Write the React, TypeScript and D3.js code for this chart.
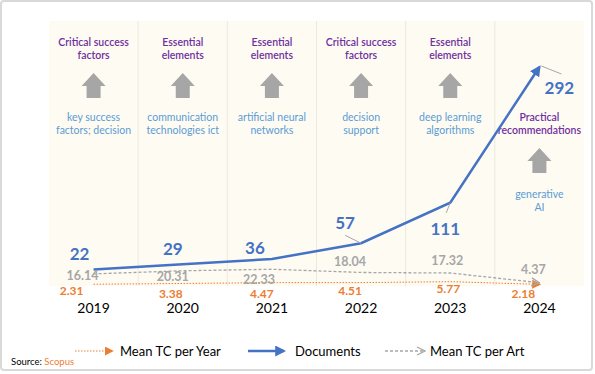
import * as d3 from "d3"

const years = ["2019", "2020", "2021", "2022", "2023", "2024"]
const documents = [22, 29, 36, 57, 111, 292]
const meanTcPerArt = [16.14, 20.31, 22.33, 18.04, 17.32, 4.37]
const meanTcPerYear = [2.31, 3.38, 4.47, 4.51, 5.77, 2.18]
const themes = [
  ["Critical success", "factors"],
  ["Essential", "elements"],
  ["Essential", "elements"],
  ["Critical success", "factors"],
  ["Essential", "elements"],
  ["Practical", "recommendations"],
]
const keywords = [
  ["key success", "factors; decision"],
  ["communication", "technologies ict"],
  ["artificial neural", "networks"],
  ["decision", "support"],
  ["deep learning", "algorithms"],
  ["generative", "AI"],
]

// label offsets relative to each point (layout only)
const docOff = [[-14, -15], [-10, -15], [-17, -11], [-16, -20], [-5, 26], [20, 21]]
const artOff = [[-11, 2], [-10, 6], [-13, 10], [-11, -11], [-3, -12], [-6, -13]]
const yearOff = [[-22, 7], [-12, 10], [-10, 11], [-11, 8], [-2, 7], [-16, 9]]

const W = 595
const H = 374
const FONT = "Lato, 'Open Sans', sans-serif"
const BLUE = "#4472c4"
const GRAY = "#a6a6a6"
const ORANGE = "#ed7d31"
const PURPLE = "#7030a0"
const KEYBLUE = "#5b9bd5"

export default function App() {
  const x = d3.scaleBand().domain(years).range([49, 584])
  const y = d3.scaleLinear().domain([0, 292]).range([286, 67])
  const cx = (i) => x(years[i]) + x.bandwidth() / 2

  const line = d3.line().x((d, i) => cx(i)).y((d) => y(d))

  const arrow = (ax, top) =>
    `M${ax},${top} L${ax + 12},${top + 13} L${ax + 7},${top + 13} L${ax + 7},${top + 25} L${ax - 7},${top + 25} L${ax - 7},${top + 13} L${ax - 12},${top + 13} Z`

  return (
    <svg
      width={W}
      height={H}
      style={{ position: "absolute", left: 0, top: 0, display: "block", fontFamily: FONT }}
    >
      <defs>
        <marker id="blueHead" viewBox="0 0 10 10" refX="8" refY="5" markerWidth="11" markerHeight="11" orient="auto" markerUnits="userSpaceOnUse">
          <path d="M0,0 L10,5 L0,10 Z" fill={BLUE} />
        </marker>
        <marker id="orangeHead" viewBox="0 0 10 10" refX="8" refY="5" markerWidth="9" markerHeight="9" orient="auto" markerUnits="userSpaceOnUse">
          <path d="M0,0 L10,5 L0,10 Z" fill={ORANGE} />
        </marker>
        <marker id="grayHead" viewBox="0 0 10 10" refX="9" refY="5" markerWidth="10" markerHeight="10" orient="auto" markerUnits="userSpaceOnUse">
          <path d="M1,1 L9,5 L1,9" fill="none" stroke={GRAY} strokeWidth="1.3" />
        </marker>
      </defs>

      <rect x={1} y={1} width={591} height={369} rx={3} fill="#fff" stroke="#d9d9d9" strokeWidth={2} />

      {/* cream background + columns */}
      <rect x={49} y={21} width={535} height={265} fill="#fefbf3" />
      {years.slice(1).map((yr) => (
        <line key={yr} x1={x(yr)} x2={x(yr)} y1={21} y2={286} stroke="#ebe8e0" strokeWidth={1} />
      ))}

      {/* annotations */}
      {years.map((yr, i) => {
        const last = i === years.length - 1
        const ax = cx(i)
        return (
          <g key={yr}>
            <text textAnchor="middle" fill={PURPLE} fontSize={10.5} fontWeight={600}>
              {themes[i].map((t, k) => (
                <tspan key={k} x={ax} y={(last ? 121 : 46) + k * 13}>{t}</tspan>
              ))}
            </text>
            <path d={arrow(ax, last ? 148 : 73)} fill={GRAY} />
            <text textAnchor="middle" fill={KEYBLUE} fontSize={10.5}>
              {keywords[i].map((t, k) => (
                <tspan key={k} x={ax} y={(last ? 198 : 121) + k * 13}>{t}</tspan>
              ))}
            </text>
          </g>
        )
      })}

      {/* series lines */}
      <path d={line(meanTcPerYear)} fill="none" stroke={ORANGE} strokeWidth={1} strokeDasharray="1.5 1.5" markerEnd="url(#orangeHead)" />
      <path d={line(meanTcPerArt)} fill="none" stroke={GRAY} strokeWidth={1.3} strokeDasharray="3 2" markerEnd="url(#grayHead)" />
      <path d={line(documents)} fill="none" stroke={BLUE} strokeWidth={2.5} markerEnd="url(#blueHead)" />

      {/* leader lines */}
      <line x1={cx(3) - 16} y1={y(documents[3]) - 8} x2={cx(3)} y2={y(documents[3])} stroke={GRAY} strokeWidth={1} />
      <line x1={cx(4) - 4} y1={y(documents[4]) + 10} x2={cx(4)} y2={y(documents[4])} stroke={GRAY} strokeWidth={1} />
      <line x1={cx(5) + 2} y1={y(documents[5]) - 1} x2={cx(5) + 22} y2={y(documents[5]) + 7} stroke={GRAY} strokeWidth={1} />

      {/* value labels */}
      {documents.map((v, i) => (
        <text key={"d" + i} x={cx(i) + docOff[i][0]} y={y(v) + docOff[i][1]} dy="0.35em" textAnchor="middle" fill={BLUE} fontSize={17} fontWeight={700}>
          {v}
        </text>
      ))}
      {meanTcPerArt.map((v, i) => (
        <text key={"a" + i} x={cx(i) + artOff[i][0]} y={y(v) + artOff[i][1]} dy="0.35em" textAnchor="middle" fill={GRAY} fontSize={12.5} fontWeight={700}>
          {v.toFixed(2)}
        </text>
      ))}
      {meanTcPerYear.map((v, i) => (
        <text key={"y" + i} x={cx(i) + yearOff[i][0]} y={y(v) + yearOff[i][1]} dy="0.35em" textAnchor="middle" fill={ORANGE} fontSize={12} fontWeight={700}>
          {v.toFixed(2)}
        </text>
      ))}

      {/* x axis labels */}
      {years.map((yr, i) => (
        <text key={yr} x={cx(i)} y={313} textAnchor="middle" fill="#000" fontSize={14}>
          {yr}
        </text>
      ))}

      {/* legend */}
      <line x1={75} x2={112} y1={351} y2={351} stroke={ORANGE} strokeWidth={1} strokeDasharray="1.5 1.5" markerEnd="url(#orangeHead)" />
      <text x={120} y={355.5} fontSize={13} fill="#000">Mean TC per Year</text>
      <line x1={248} x2={284} y1={351} y2={351} stroke={BLUE} strokeWidth={2.5} markerEnd="url(#blueHead)" />
      <text x={295} y={355.5} fontSize={13} fill="#000">Documents</text>
      <line x1={385} x2={425} y1={351} y2={351} stroke={GRAY} strokeWidth={1.3} strokeDasharray="3 2" markerEnd="url(#grayHead)" />
      <text x={430} y={355.5} fontSize={13} fill="#000">Mean TC per Art</text>

      <text x={11} y={365} fontSize={9.5} fill="#000">
        Source: <tspan fill={ORANGE}>Scopus</tspan>
      </text>
    </svg>
  )
}
